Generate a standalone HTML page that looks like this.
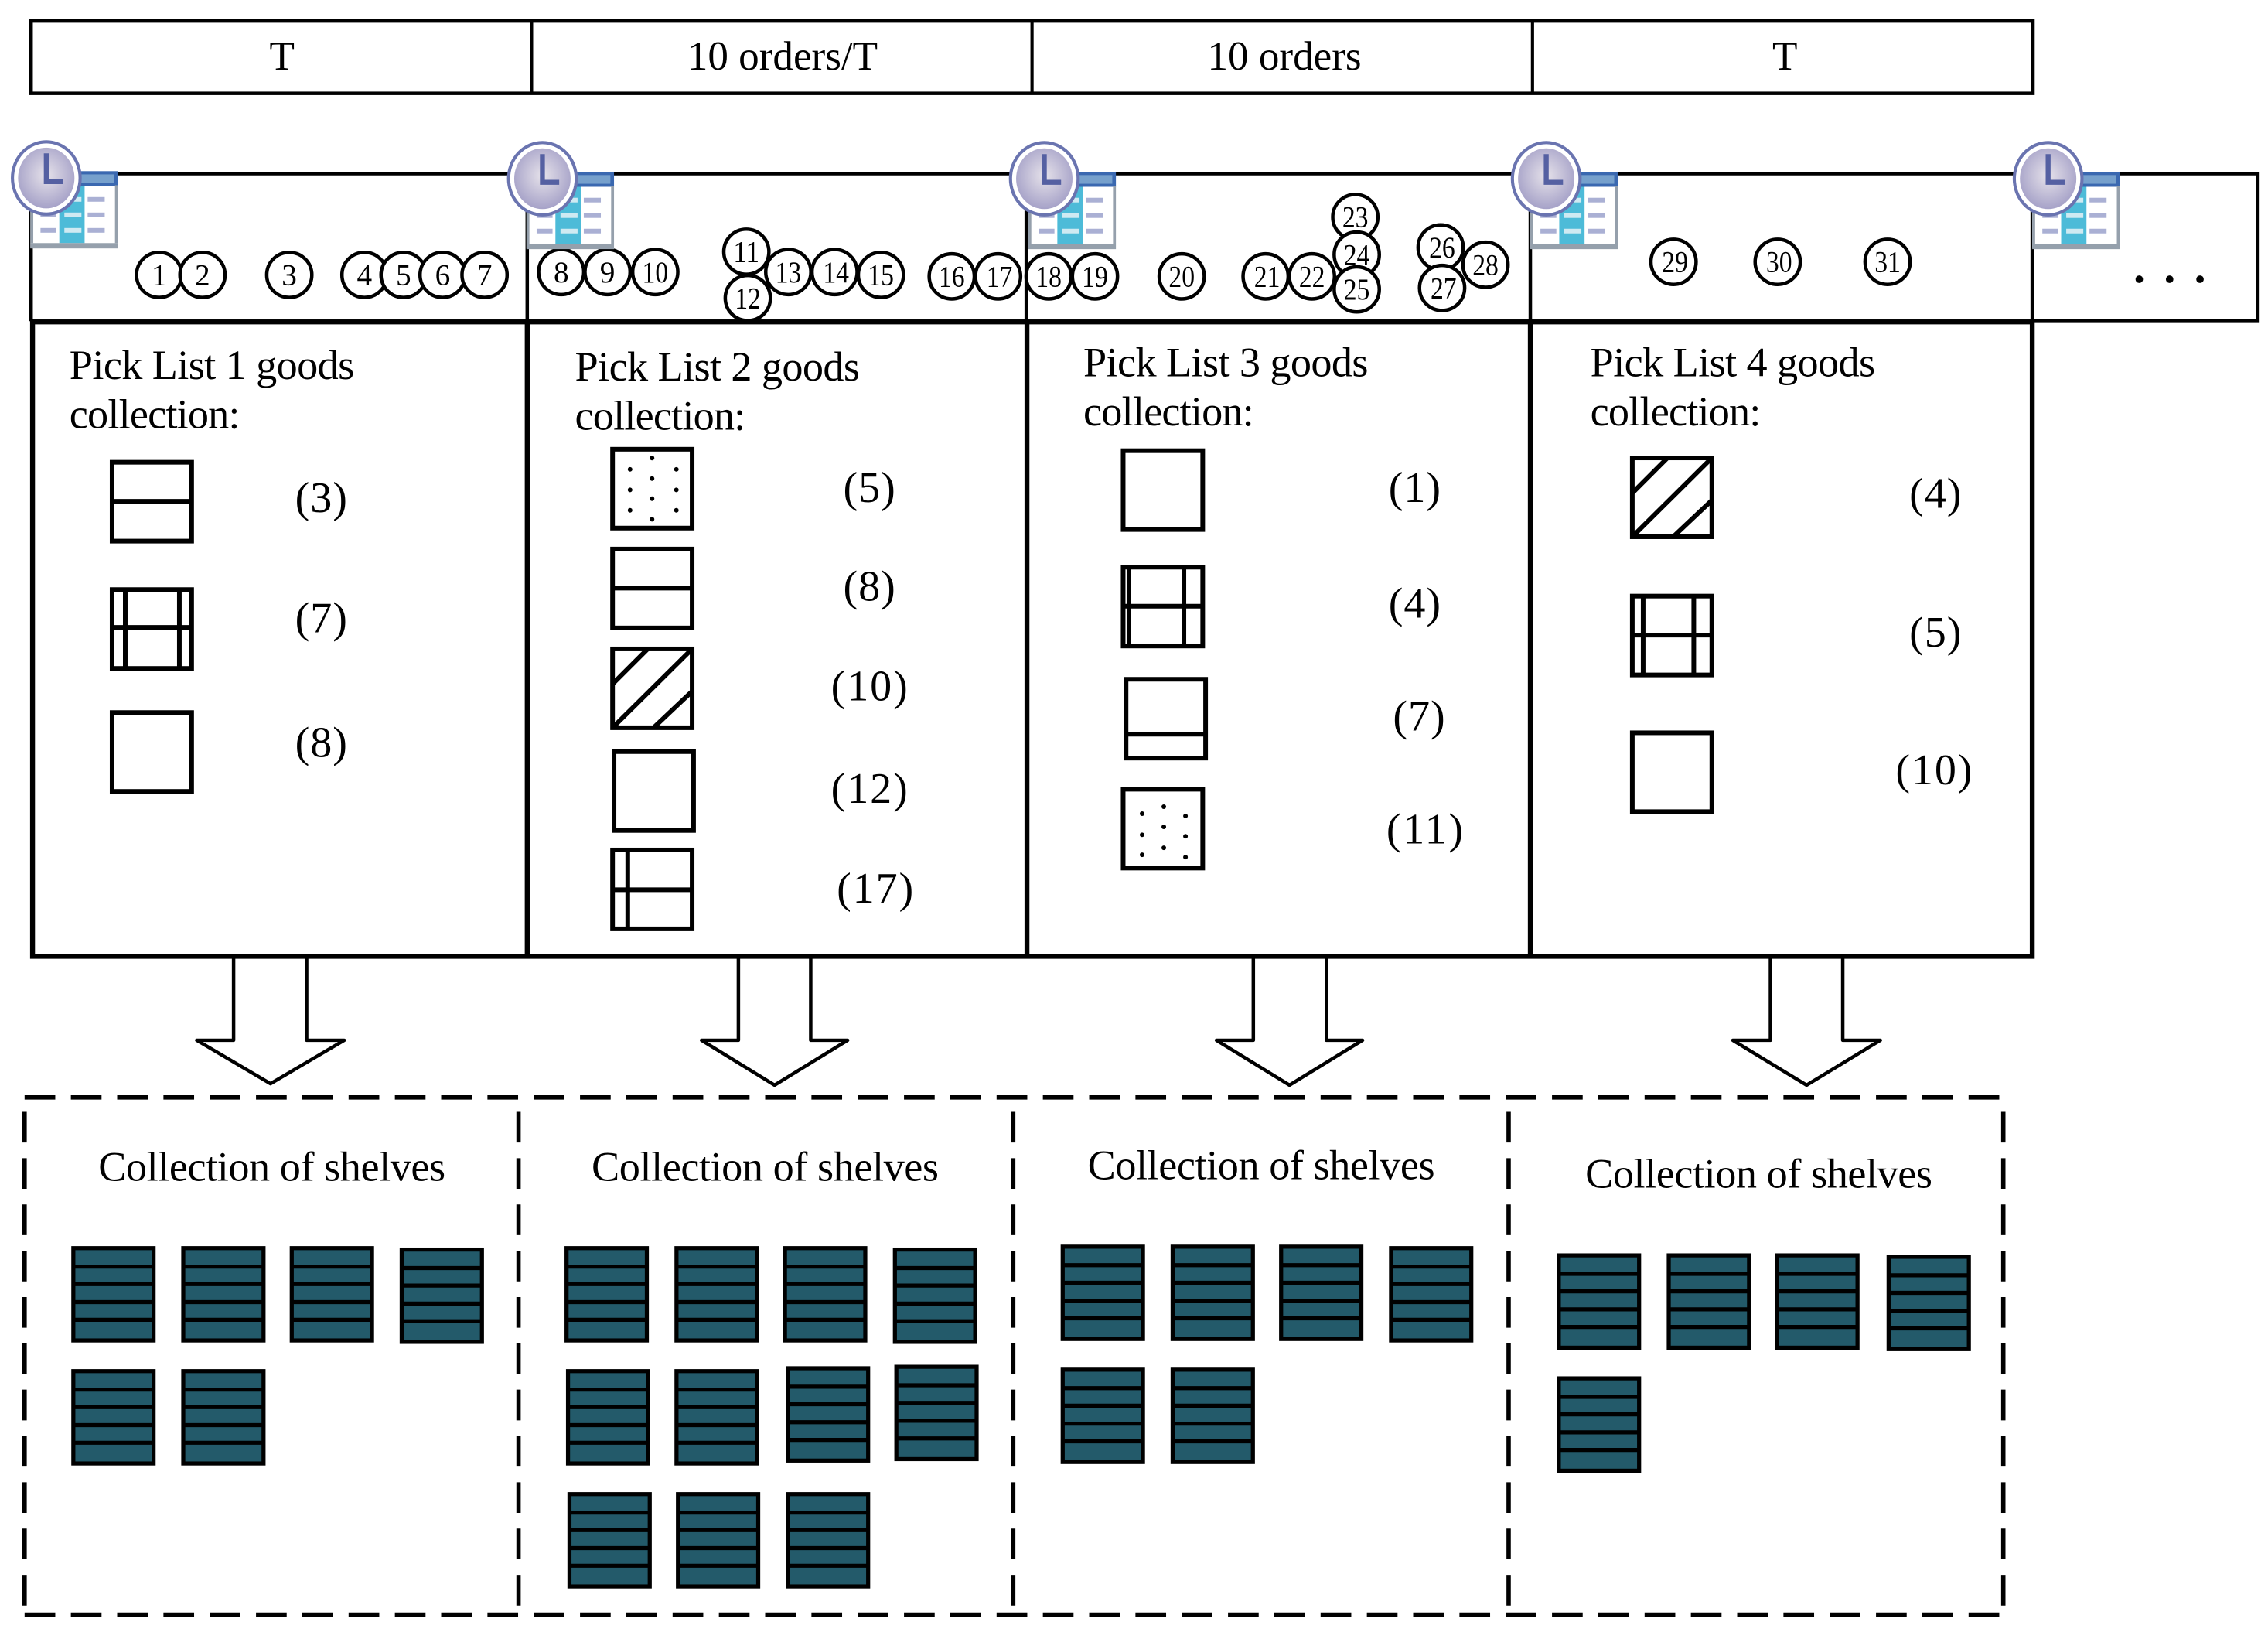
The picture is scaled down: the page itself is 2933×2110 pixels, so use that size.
<!DOCTYPE html>
<html><head><meta charset="utf-8"><style>
html,body{margin:0;padding:0;background:#fff}
svg{display:block}
text{font-family:"Liberation Serif",serif;fill:#000}
.t{font-size:28.4px;text-anchor:middle}
.h{font-size:29px}
.l{font-size:30px;text-anchor:middle}
.n{font-size:21px;text-anchor:middle}
.c circle{fill:#fff;stroke:#000;stroke-width:2.4}
.i{stroke:#000;stroke-width:3.2;fill:none}
.d{stroke:#000;stroke-width:3;stroke-dasharray:21.2 10.8;fill:none}
.a{fill:#fff;stroke:#000;stroke-width:2.4;stroke-linejoin:round}
</style></head><body>
<svg xmlns="http://www.w3.org/2000/svg" width="2933" height="2110" viewBox="0 0 1568 1128">
<defs>
<radialGradient id="cg" cx="0.5" cy="0.45" r="0.55"><stop offset="0" stop-color="#e6e2ea"/><stop offset="1" stop-color="#a6a2c8"/></radialGradient>
<g id="clock">
<rect x="-11" y="-4.7" width="60" height="53" fill="#fff" stroke="none"/>
<rect x="9" y="5" width="17.5" height="40" fill="#4dbbd8"/>
<rect x="-11" y="-4.7" width="60.5" height="10.3" fill="#3a68b0"/>
<rect x="-4" y="-2.5" width="51" height="6" fill="#76a0cc"/>
<rect x="-11" y="45" width="60.5" height="3.7" fill="#95a0ac"/>
<rect x="-11" y="5" width="2" height="40" fill="#95a0ac"/>
<rect x="47.5" y="5" width="2" height="40" fill="#95a0ac"/>
<g fill="#aab0d4">
<rect x="28.6" y="13.2" width="11.8" height="3.2"/><rect x="28.6" y="23.9" width="11.8" height="3.2"/><rect x="28.6" y="34.6" width="11.8" height="3.2"/>
<rect x="-4" y="23.9" width="11" height="3.2"/><rect x="-4" y="34.6" width="11" height="3.2"/>
</g>
<g fill="#cfeaf2">
<rect x="12.5" y="13.2" width="11.8" height="3.2"/><rect x="12.5" y="23.9" width="11.8" height="3.2"/><rect x="12.5" y="34.6" width="11.8" height="3.2"/>
</g>
<ellipse cx="0" cy="0" rx="23.4" ry="25" fill="#fff" stroke="#6a74b0" stroke-width="2.2"/>
<ellipse cx="0" cy="0" rx="19.5" ry="21" fill="url(#cg)"/>
<path d="M0 -17V2.500H11.6" fill="none" stroke="#5560a2" stroke-width="3.4"/>
</g>
<g id="s">
<rect x="0.7" y="0.7" width="55.5" height="63.800" fill="#235a6a" stroke="#000" stroke-width="2.8"/>
<path d="M0 13.500H56.500M0 25.600H56.500M0 38H56.500M0 50.200H56.500" stroke="#000" stroke-width="2.8"/>
</g>
<g id="bx"><rect x="0.5" y="0.5" width="55" height="54.500" fill="#fff" stroke="#000" stroke-width="3.2"/></g>
<g id="hl"><use href="#bx"/><path class="i" d="M0.700 27.500H55.300"/></g>
<g id="dg"><use href="#bx"/><path class="i" d="M0.700 24.600L24.600 0.700M0.700 54.800L55.300 0.700M29 54.800L55.300 30"/></g>
</defs>
<rect width="1568" height="1128" fill="#fff"/>

<!-- Top table -->
<rect x="21.5" y="14.5" width="1384" height="50" fill="#fff" stroke="#000" stroke-width="2.4"/>
<path d="M367.500 14.500V64.500M713.500 14.500V64.500M1059.500 14.500V64.500" stroke="#000" stroke-width="2.2"/>
<text class="t" x="195" y="48">T</text>
<text class="t" x="541" y="48">10 orders/T</text>
<text class="t" x="888" y="48">10 orders</text>
<text class="t" x="1234" y="48">T</text>

<!-- timeline row -->
<path d="M21.500 120V222M364.500 120V222M709.500 120V222M1058 120V222M1405 120V222M21.500 120H1561V221.500H1405" fill="none" stroke="#000" stroke-width="2.4"/>
<circle cx="1479" cy="193" r="2.600"/><circle cx="1500" cy="193" r="2.600"/><circle cx="1521" cy="193" r="2.600"/>

<!-- Order circles -->
<g class="c">
<circle cx="110" cy="190" r="15.600"/><text class="n" x="110" y="197">1</text>
<circle cx="140" cy="190" r="15.600"/><text class="n" x="140" y="197">2</text>
<circle cx="200" cy="190" r="15.600"/><text class="n" x="200" y="197">3</text>
<circle cx="252" cy="190" r="15.600"/><text class="n" x="252" y="197">4</text>
<circle cx="279" cy="190" r="15.600"/><text class="n" x="279" y="197">5</text>
<circle cx="306" cy="190" r="15.600"/><text class="n" x="306" y="197">6</text>
<circle cx="335" cy="190" r="15.600"/><text class="n" x="335" y="197">7</text>
<circle cx="388" cy="188" r="15.600"/><text class="n" x="388" y="195">8</text>
<circle cx="420" cy="188" r="15.600"/><text class="n" x="420" y="195">9</text>
<circle cx="453" cy="188" r="15.600"/><text class="n" x="453" y="195" textLength="18" lengthAdjust="spacingAndGlyphs">10</text>
<circle cx="516" cy="174" r="15.600"/><text class="n" x="516" y="181" textLength="18" lengthAdjust="spacingAndGlyphs">11</text>
<circle cx="517" cy="206" r="15.600"/><text class="n" x="517" y="213" textLength="18" lengthAdjust="spacingAndGlyphs">12</text>
<circle cx="545" cy="188" r="15.600"/><text class="n" x="545" y="195" textLength="18" lengthAdjust="spacingAndGlyphs">13</text>
<circle cx="577" cy="188" r="15.600"/><text class="n" x="578" y="195" textLength="18" lengthAdjust="spacingAndGlyphs">14</text>
<circle cx="609" cy="190" r="15.600"/><text class="n" x="609" y="197" textLength="18" lengthAdjust="spacingAndGlyphs">15</text>
<circle cx="658" cy="191" r="15.600"/><text class="n" x="658" y="198" textLength="18" lengthAdjust="spacingAndGlyphs">16</text>
<circle cx="690" cy="191" r="15.600"/><text class="n" x="691" y="198" textLength="18" lengthAdjust="spacingAndGlyphs">17</text>
<circle cx="725" cy="191" r="15.600"/><text class="n" x="725" y="198" textLength="18" lengthAdjust="spacingAndGlyphs">18</text>
<circle cx="757" cy="191" r="15.600"/><text class="n" x="757" y="198" textLength="18" lengthAdjust="spacingAndGlyphs">19</text>
<circle cx="817" cy="191" r="15.600"/><text class="n" x="817" y="198" textLength="18" lengthAdjust="spacingAndGlyphs">20</text>
<circle cx="875" cy="191" r="15.600"/><text class="n" x="876" y="198" textLength="18" lengthAdjust="spacingAndGlyphs">21</text>
<circle cx="907" cy="191" r="15.600"/><text class="n" x="907" y="198" textLength="18" lengthAdjust="spacingAndGlyphs">22</text>
<circle cx="937" cy="150" r="15.600"/><text class="n" x="937" y="157" textLength="18" lengthAdjust="spacingAndGlyphs">23</text>
<circle cx="938" cy="176" r="15.600"/><text class="n" x="938" y="183" textLength="18" lengthAdjust="spacingAndGlyphs">24</text>
<circle cx="938" cy="200" r="15.600"/><text class="n" x="938" y="207" textLength="18" lengthAdjust="spacingAndGlyphs">25</text>
<circle cx="996" cy="171" r="15.600"/><text class="n" x="997" y="178" textLength="18" lengthAdjust="spacingAndGlyphs">26</text>
<circle cx="997" cy="199" r="15.600"/><text class="n" x="998" y="206" textLength="18" lengthAdjust="spacingAndGlyphs">27</text>
<circle cx="1027" cy="183" r="15.600"/><text class="n" x="1027" y="190" textLength="18" lengthAdjust="spacingAndGlyphs">28</text>
<circle cx="1157" cy="181" r="15.600"/><text class="n" x="1158" y="188" textLength="18" lengthAdjust="spacingAndGlyphs">29</text>
<circle cx="1229" cy="181" r="15.600"/><text class="n" x="1230" y="188" textLength="18" lengthAdjust="spacingAndGlyphs">30</text>
<circle cx="1305" cy="181" r="15.600"/><text class="n" x="1305" y="188" textLength="18" lengthAdjust="spacingAndGlyphs">31</text>
</g>

<!-- clocks -->
<use href="#clock" x="32" y="123"/>
<use href="#clock" x="375" y="123.500"/>
<use href="#clock" x="722" y="123.500"/>
<use href="#clock" x="1069" y="123.500"/>
<use href="#clock" x="1416" y="123.500"/>

<!-- arrows -->
<path class="a" d="M161.500 661V719H136L187 749L238 719H212V661"/>
<path class="a" d="M510.500 661V719H485L535.500 750L586 719H560.500V661"/>
<path class="a" d="M866.500 661V719H841L891.500 750L942 719H917V661"/>
<path class="a" d="M1224 661V719H1198L1249 750L1300 719H1274V661"/>

<!-- pick list frames -->
<rect x="22.500" y="222.500" width="1382.500" height="438.500" fill="none" stroke="#000" stroke-width="3.400"/>
<path d="M364.500 222.500V661M710 222.500V661M1058 222.500V661" fill="none" stroke="#000" stroke-width="3.400"/>

<text class="h" x="48" y="262" textLength="197">Pick List 1 goods</text>
<text class="h" x="48" y="296" textLength="118">collection:</text>
<text class="h" x="397.500" y="263" textLength="197">Pick List 2 goods</text>
<text class="h" x="397.500" y="297" textLength="118">collection:</text>
<text class="h" x="749" y="260" textLength="197">Pick List 3 goods</text>
<text class="h" x="749" y="294" textLength="118">collection:</text>
<text class="h" x="1099.500" y="260" textLength="197">Pick List 4 goods</text>
<text class="h" x="1099.500" y="294" textLength="118">collection:</text>

<!-- list 1 -->
<use href="#hl" x="77" y="319"/>
<g transform="translate(77,407)"><use href="#bx"/><path class="i" d="M9.600 0.700V54.800M47 0.700V54.800M0.700 26.600H55.300"/></g>
<use href="#bx" x="77" y="492"/>
<text class="l" x="222" y="354" textLength="36">(3)</text>
<text class="l" x="222" y="437" textLength="36">(7)</text>
<text class="l" x="222" y="523" textLength="36">(8)</text>

<!-- list 2 -->
<g transform="translate(423,310)"><use href="#bx"/>
<g><circle cx="12.600" cy="14.400" r="1.600"/><circle cx="12.600" cy="28.600" r="1.600"/><circle cx="12.600" cy="42.700" r="1.600"/><circle cx="27.800" cy="6.600" r="1.600"/><circle cx="27.800" cy="20.800" r="1.600"/><circle cx="27.800" cy="34.700" r="1.600"/><circle cx="27.800" cy="48.900" r="1.600"/><circle cx="44.600" cy="14.400" r="1.600"/><circle cx="44.600" cy="28.600" r="1.600"/><circle cx="44.600" cy="42.700" r="1.600"/></g></g>
<use href="#hl" x="423" y="379"/>
<use href="#dg" x="423" y="448"/>
<use href="#bx" x="424" y="519"/>
<g transform="translate(423,587)"><use href="#bx"/><path class="i" d="M11 0.700V54.800M0.700 28H55.300"/></g>
<text class="l" x="601" y="347" textLength="36">(5)</text>
<text class="l" x="601" y="415" textLength="36">(8)</text>
<text class="l" x="601" y="484" textLength="53">(10)</text>
<text class="l" x="601" y="555" textLength="53">(12)</text>
<text class="l" x="605" y="624" textLength="53">(17)</text>

<!-- list 3 -->
<use href="#bx" x="776" y="311"/>
<g transform="translate(776,391.500)"><use href="#bx"/><path class="i" d="M4.500 0.700V54.800M42.500 0.700V54.800M0.700 27.500H55.300"/></g>
<g transform="translate(778,469)"><use href="#bx"/><path class="i" d="M0.700 38.500H55.300"/></g>
<g transform="translate(776,545)"><use href="#bx"/>
<g><circle cx="13.600" cy="17.400" r="1.600"/><circle cx="13.600" cy="32" r="1.600"/><circle cx="13.600" cy="45.800" r="1.600"/><circle cx="28.600" cy="12.600" r="1.600"/><circle cx="28.600" cy="26.500" r="1.600"/><circle cx="28.600" cy="41" r="1.600"/><circle cx="43.600" cy="19" r="1.600"/><circle cx="43.600" cy="33" r="1.600"/><circle cx="43.600" cy="47.400" r="1.600"/></g></g>
<text class="l" x="978" y="347" textLength="36">(1)</text>
<text class="l" x="978" y="427" textLength="36">(4)</text>
<text class="l" x="981" y="505" textLength="36">(7)</text>
<text class="l" x="985" y="583" textLength="53">(11)</text>

<!-- list 4 -->
<use href="#dg" x="1128" y="316"/>
<g transform="translate(1128,411.500)"><use href="#bx"/><path class="i" d="M8 0.700V54.800M43 0.700V54.800M0.700 27.500H55.300"/></g>
<use href="#bx" x="1128" y="506"/>
<text class="l" x="1338" y="351" textLength="36">(4)</text>
<text class="l" x="1338" y="447" textLength="36">(5)</text>
<text class="l" x="1337" y="542" textLength="53">(10)</text>

<!-- dashed frames -->
<path class="d" d="M17 758.500H1385"/>
<path class="d" d="M17 1116H1385"/>
<path class="d" d="M17 768.500V1116"/>
<path class="d" d="M358.500 768.500V1116"/>
<path class="d" d="M700.500 768.500V1116"/>
<path class="d" d="M1043 768.500V1116"/>
<path class="d" d="M1385 768.500V1116"/>

<text class="h" x="68" y="816" textLength="240">Collection of shelves</text>
<text class="h" x="409" y="816" textLength="240">Collection of shelves</text>
<text class="h" x="752" y="815" textLength="240">Collection of shelves</text>
<text class="h" x="1096" y="821" textLength="240">Collection of shelves</text>

<!-- shelves -->
<use href="#s" x="50" y="862"/><use href="#s" x="126" y="862"/><use href="#s" x="201" y="862"/><use href="#s" x="277" y="863"/>
<use href="#s" x="50" y="947"/><use href="#s" x="126" y="947"/>
<use href="#s" x="391" y="862"/><use href="#s" x="467" y="862"/><use href="#s" x="542" y="862"/><use href="#s" x="618" y="863"/>
<use href="#s" x="392" y="947"/><use href="#s" x="467" y="947"/><use href="#s" x="544" y="945"/><use href="#s" x="619" y="944"/>
<use href="#s" x="393" y="1032"/><use href="#s" x="468" y="1032"/><use href="#s" x="544" y="1032"/>
<use href="#s" x="734" y="861"/><use href="#s" x="810" y="861"/><use href="#s" x="885" y="861"/><use href="#s" x="961" y="862"/>
<use href="#s" x="734" y="946"/><use href="#s" x="810" y="946"/>
<use href="#s" x="1077" y="867"/><use href="#s" x="1153" y="867"/><use href="#s" x="1228" y="867"/><use href="#s" x="1305" y="868"/>
<use href="#s" x="1077" y="952"/>
</svg>
</body></html>
